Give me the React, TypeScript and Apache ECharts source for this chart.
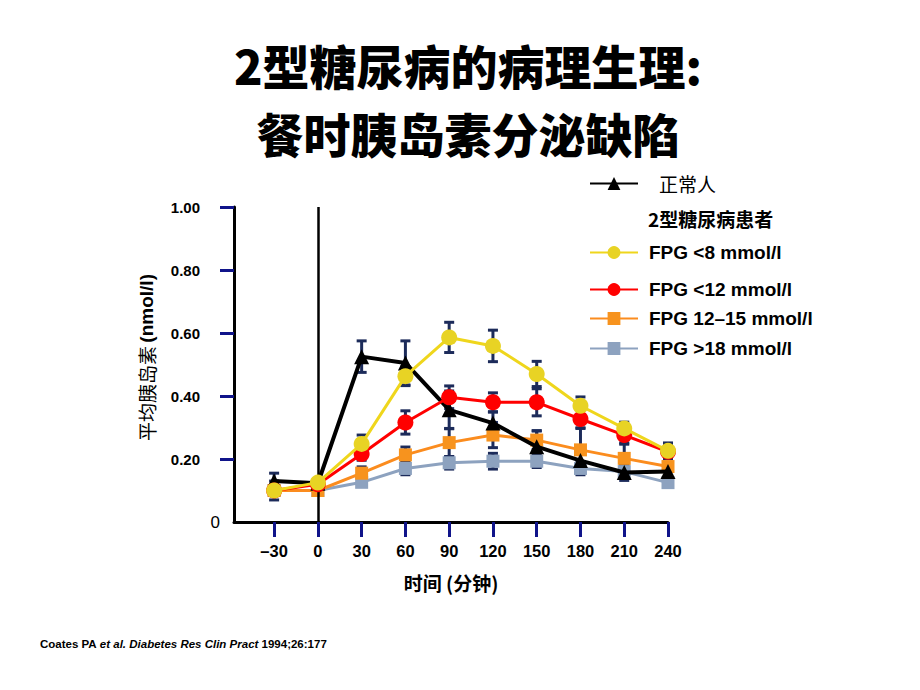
import React, { useEffect, useRef } from "react";
import * as echarts from "echarts";

const times = [-30, 0, 30, 60, 90, 120, 150, 180, 210, 240];
const xTickValues = [-30, 0, 30, 60, 90, 120, 150, 180, 210, 240];
const yTickValues = [0.2, 0.4, 0.6, 0.8, 1.0];
const yLabelValues = [0, 0.2, 0.4, 0.6, 0.8, 1.0];

const normal = [0.13, 0.123, 0.525, 0.505, 0.356, 0.314, 0.239, 0.195, 0.157, 0.16];
const normalErr = [0.025, 0, 0.05, 0.07, 0.06, 0.035, 0.05, 0.03, 0.025, 0];
const fpg8 = [0.1, 0.125, 0.248, 0.463, 0.586, 0.559, 0.47, 0.369, 0.297, 0.226];
const fpg8Err = [0.03, 0, 0.028, 0.03, 0.048, 0.05, 0.04, 0.028, 0.02, 0.025];
const fpg12 = [0.1, 0.12, 0.216, 0.316, 0.396, 0.38, 0.38, 0.327, 0.276, 0.223];
const fpg12Err = [0, 0, 0.02, 0.037, 0.036, 0.03, 0.043, 0.03, 0.025, 0.02];
const fpg15 = [0.1, 0.1, 0.155, 0.213, 0.252, 0.276, 0.26, 0.229, 0.202, 0.176];
const fpg15Err = [0, 0, 0.02, 0.025, 0.045, 0.04, 0.03, 0.07, 0.045, 0];
const fpg18 = [0.1, 0.1, 0.126, 0.17, 0.188, 0.193, 0.193, 0.17, 0.16, 0.125];
const fpg18Err = [0, 0, 0, 0.02, 0.02, 0.025, 0.02, 0.02, 0.02, 0];

const names = ["正常人", "FPG <8 mmol/l", "FPG <12 mmol/l", "FPG 12–15 mmol/l", "FPG >18 mmol/l"];
const titleLines = ["2型糖尿病的病理生理:", "餐时胰岛素分泌缺陷"];

const LAT = "'Liberation Sans', Arial, sans-serif";
const CJK = "'Noto Sans CJK SC', 'Liberation Sans', sans-serif";
const NAVY = "#1c2b5a";

function pairs(vals: number[]) {
  return times.map((t, i) => [t, vals[i]]);
}
function errData(vals: number[], errs: number[]) {
  return times.map((t, i) => [t, vals[i], errs[i]]).filter((d) => d[2] > 0);
}

function errSeries(vals: number[], errs: number[]) {
  return {
    type: "custom",
    z: 1,
    silent: true,
    data: errData(vals, errs),
    encode: { x: 0, y: 1 },
    renderItem: (params: any, api: any) => {
      const x = api.value(0);
      const y = api.value(1);
      const e = api.value(2);
      const top = api.coord([x, y + e]);
      const bot = api.coord([x, y - e]);
      const hw = 5;
      const st = { stroke: NAVY, lineWidth: 3 };
      return {
        type: "group",
        children: [
          { type: "line", shape: { x1: top[0], y1: top[1], x2: bot[0], y2: bot[1] }, style: st },
          { type: "line", shape: { x1: top[0] - hw, y1: top[1], x2: top[0] + hw, y2: top[1] }, style: st },
          { type: "line", shape: { x1: bot[0] - hw, y1: bot[1], x2: bot[0] + hw, y2: bot[1] }, style: st },
        ],
      };
    },
  };
}

function legendRow(name: string, top: number, pad: number) {
  return {
    data: [name],
    left: 589,
    top,
    padding: 0,
    itemWidth: 48,
    itemHeight: 16,
    selectedMode: false,
    textStyle: {
      fontFamily: name === "正常人" ? CJK : LAT,
      fontWeight: name === "正常人" ? "normal" : "bold",
      fontSize: 19,
      color: "#000",
      padding: [0, 0, 0, pad],
    },
  };
}

export default function App() {
  const ref = useRef<HTMLDivElement>(null);
  useEffect(() => {
    if (!ref.current) return;
    const chart = echarts.init(ref.current, undefined, { renderer: "svg" });
    const option: any = {
      animation: false,
      backgroundColor: "#fff",
      grid: { left: 234, right: 252, top: 207, bottom: 168 },
      graphic: [
        {
          type: "text",
          x: 468,
          y: 98,
          style: {
            text: titleLines.join("\n"),
            fontFamily: CJK,
            fontWeight: 900,
            fontSize: 47,
            lineHeight: 68,
            fill: "#000",
            align: "center",
            verticalAlign: "middle",
          },
        },
        {
          type: "text",
          x: 648,
          y: 218,
          style: {
            text: "2型糖尿病患者",
            fontFamily: CJK,
            fontWeight: "bold",
            fontSize: 19,
            fill: "#000",
            align: "left",
            verticalAlign: "middle",
          },
        },
        {
          type: "text",
          x: 40,
          y: 644,
          style: {
            text: "{b|Coates PA }{i|et al. Diabetes Res Clin Pract}{b| 1994;26:177}",
            verticalAlign: "middle",
            align: "left",
            rich: {
              b: { fontFamily: LAT, fontWeight: "bold", fontSize: 11.5, fill: "#000" },
              i: { fontFamily: LAT, fontWeight: "bold", fontStyle: "italic", fontSize: 11.5, fill: "#000" },
            },
          },
        },
      ],
      legend: [
        legendRow(names[0], 174, 16),
        legendRow(names[1], 243, 6),
        legendRow(names[2], 280, 6),
        legendRow(names[3], 309, 6),
        legendRow(names[4], 339, 6),
      ],
      xAxis: {
        type: "value",
        min: -57.5,
        max: 240,
        name: "时间 (分钟)",
        nameLocation: "middle",
        nameGap: 51,
        nameTextStyle: { fontFamily: CJK, fontWeight: "bold", fontSize: 19, color: "#000" },
        axisLine: { show: true, onZero: false, lineStyle: { color: "#000", width: 3 } },
        axisTick: { show: true, customValues: xTickValues, length: 15, lineStyle: { color: "#10148a", width: 3 } },
        axisLabel: {
          customValues: xTickValues,
          margin: 20,
          fontFamily: LAT,
          fontWeight: "bold",
          fontSize: 16.5,
          color: "#000",
          formatter: (v: number) => (v < 0 ? "–" + Math.abs(v) : String(v)),
        },
        splitLine: { show: false },
      },
      yAxis: {
        type: "value",
        min: 0,
        max: 1,
        interval: 0.2,
        name: "{c|平均胰岛素} {l|(nmol/l)}",
        nameLocation: "middle",
        nameGap: 78,
        nameTextStyle: {
          color: "#000",
          padding: [0, 0, 0, 14],
          rich: {
            c: { fontFamily: CJK, fontSize: 19, color: "#000" },
            l: { fontFamily: LAT, fontWeight: "bold", fontSize: 19, color: "#000" },
          },
        },
        axisLine: { show: true, onZero: false, lineStyle: { color: "#000", width: 3 } },
        axisTick: { show: true, customValues: yTickValues, length: 14, lineStyle: { color: "#10148a", width: 3 } },
        axisLabel: {
          customValues: yLabelValues,
          margin: 14,
          formatter: (v: number) => (v === 0 ? "{z|0}" : "{b|" + v.toFixed(2) + "}"),
          rich: {
            z: { fontFamily: LAT, fontSize: 17, color: "#000" },
            b: { fontFamily: LAT, fontWeight: "bold", fontSize: 15, color: "#000", padding: [0, 20, 0, 0] },
          },
        },
        splitLine: { show: false },
      },
      series: [
        errSeries(normal, normalErr),
        errSeries(fpg8, fpg8Err),
        errSeries(fpg12, fpg12Err),
        errSeries(fpg15, fpg15Err),
        errSeries(fpg18, fpg18Err),
        {
          name: names[4],
          type: "line",
          z: 3,
          data: pairs(fpg18),
          symbol: "rect",
          symbolSize: 13,
          itemStyle: { color: "#8da2bf" },
          lineStyle: { color: "#8da2bf", width: 3 },
        },
        {
          name: names[3],
          type: "line",
          z: 4,
          data: pairs(fpg15),
          symbol: "rect",
          symbolSize: 13,
          itemStyle: { color: "#f7931e" },
          lineStyle: { color: "#fb8c1e", width: 3 },
        },
        {
          name: names[0],
          type: "line",
          z: 5,
          data: pairs(normal),
          symbol: "triangle",
          symbolSize: 15,
          itemStyle: { color: "#000" },
          lineStyle: { color: "#000", width: 4 },
          markLine: {
            silent: true,
            symbol: "none",
            label: { show: false },
            lineStyle: { color: "#000", width: 2.5, type: "solid" },
            data: [{ xAxis: 0 }],
          },
        },
        {
          name: names[2],
          type: "line",
          z: 6,
          data: pairs(fpg12),
          symbol: "circle",
          symbolSize: 16,
          itemStyle: { color: "#ff0000" },
          lineStyle: { color: "#ff0000", width: 3 },
        },
        {
          name: names[1],
          type: "line",
          z: 7,
          data: pairs(fpg8),
          symbol: "circle",
          symbolSize: 16,
          itemStyle: { color: "#e8d324" },
          lineStyle: { color: "#efd61c", width: 3 },
        },
      ],
    };
    chart.setOption(option);
    return () => chart.dispose();
  }, []);
  return (
    <div
      ref={ref}
      style={{ position: "fixed", left: 0, top: 0, width: 920, height: 690, background: "#fff" }}
    />
  );
}
